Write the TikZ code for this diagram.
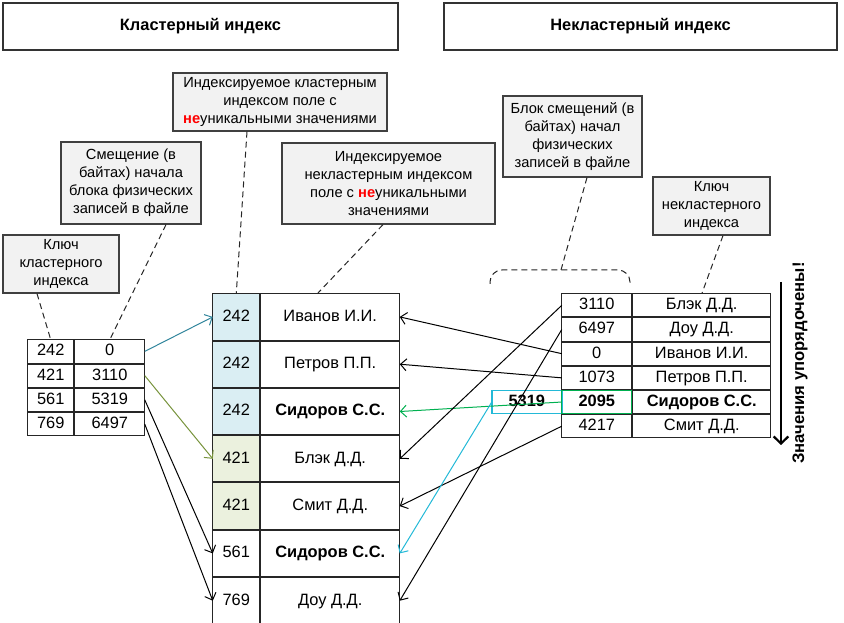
\documentclass[tikz,border=0pt]{standalone}
\usepackage{fontspec}
\setmainfont{Liberation Sans}
\usetikzlibrary{arrows.meta,positioning}
\newlength\px
\setlength\px{0.75pt}
\definecolor{keyblue}{RGB}{218,238,243}
\definecolor{keygreen}{RGB}{235,241,222}
\definecolor{notegray}{RGB}{242,242,242}
\definecolor{tealline}{RGB}{49,133,156}
\definecolor{oliveline}{RGB}{119,147,60}
\definecolor{greenline}{RGB}{0,176,80}
\definecolor{cyanline}{RGB}{35,185,215}
\definecolor{nered}{RGB}{255,0,0}
\newcommand\tablefont{\fontsize{12.3}{14}\selectfont}
\newcommand\notefont{\fontsize{11}{13.5}\selectfont}
\newcommand\redne{\textcolor{nered}{\textbf{не}}}
\tikzset{
  cell/.style={draw=black!85, line width=\px, inner sep=0pt, outer sep=0pt,
    text height=9pt, text depth=2.4pt, font=\tablefont},
  note/.style={draw=black!75, fill=notegray, line width=1.2\px, align=center,
    inner sep=0pt, font=\notefont},
  title/.style={draw=black!80, line width=1.2\px, minimum height=47\px,
    font=\fontsize{12.3}{14}\selectfont\bfseries},
  lead/.style={black!85, line width=\px, dash pattern=on 6\px off 4\px},
  ptr/.style={-{Straight Barb[length=4.5pt,width=9pt]}, line width=\px},
}
\begin{document}
\begin{tikzpicture}[x=\px, y=-\px]
\useasboundingbox (0,0) rectangle (844,623);

% titles
\node[title, minimum width=395\px] (hdClust) at (200.5,26.5) {Кластерный индекс};
\node[title, minimum width=393\px] (hdNonCl) at (640.5,26.5) {Некластерный индекс};

% notes
\node[note, minimum width=214\px, minimum height=58\px] (cbCluster) at (280,102)
  {Индексируемое кластерным\\индексом поле с\\\redne уникальными значениями};
\node[note, minimum width=140\px, minimum height=82\px] (cbOffset) at (131,183)
  {Смещение (в\\байтах) начала\\блока физических\\записей в файле};
\node[note, minimum width=116\px, minimum height=58\px] (cbKey) at (61,264)
  {Ключ\\кластерного\\индекса};
\node[note, minimum width=213\px, minimum height=81\px] (cbField) at (388.5,183.5)
  {Индексируемое\\некластерным индексом\\поле с \redne уникальными\\значениями};
\node[note, minimum width=139\px, minimum height=81\px] (cbBlock) at (572.5,136.5)
  {Блок смещений (в\\байтах) начал\\физических\\записей в файле};
\node[note, minimum width=117\px, minimum height=58\px] (cbNKey) at (711.5,206)
  {Ключ\\некластерного\\индекса};

% clustered index
\matrix (clix) at (27,339) [anchor=north west, inner sep=0pt, column sep=0pt, row sep=0pt,
  nodes={cell, minimum height=23.25\px},
  column 1/.style={nodes={minimum width=46\px}},
  column 2/.style={nodes={minimum width=70\px}}]{
  \node (ck1) {242}; & \node (co1) {0}; \\
  \node (ck2) {421}; & \node (co2) {3110}; \\
  \node (ck3) {561}; & \node (co3) {5319}; \\
  \node (ck4) {769}; & \node (co4) {6497}; \\
};

% records
\matrix (recs) at (212,293) [anchor=north west, inner sep=0pt, column sep=0pt, row sep=0pt,
  nodes={cell, minimum height=46.3\px},
  column 1/.style={nodes={minimum width=47\px}},
  column 2/.style={nodes={minimum width=139\px}}]{
  \node[fill=keyblue] (rk1) {242}; & \node (rn1) {Иванов И.И.}; \\
  \node[fill=keyblue] (rk2) {242}; & \node (rn2) {Петров П.П.}; \\
  \node[fill=keyblue] (rk3) {242}; & \node (rn3) {\textbf{Сидоров С.С.}}; \\
  \node[fill=keygreen] (rk4) {421}; & \node (rn4) {Блэк Д.Д.}; \\
  \node[fill=keygreen] (rk5) {421}; & \node (rn5) {Смит Д.Д.}; \\
  \node (rk6) {561}; & \node (rn6) {\textbf{Сидоров С.С.}}; \\
  \node (rk7) {769}; & \node (rn7) {Доу Д.Д.}; \\
};

% nonclustered index
\matrix (ncix) at (561,293) [anchor=north west, inner sep=0pt, column sep=0pt, row sep=0pt,
  nodes={cell, minimum height=23.17\px},
  column 1/.style={nodes={minimum width=70\px}},
  column 2/.style={nodes={minimum width=138\px}}]{
  \node (no1) {3110}; & \node (nn1) {Блэк Д.Д.}; \\
  \node (no2) {6497}; & \node (nn2) {Доу Д.Д.}; \\
  \node (no3) {0}; & \node (nn3) {Иванов И.И.}; \\
  \node (no4) {1073}; & \node (nn4) {Петров П.П.}; \\
  \node (no5) {\textbf{2095}}; & \node (nn5) {\textbf{Сидоров С.С.}}; \\
  \node (no6) {4217}; & \node (nn6) {Смит Д.Д.}; \\
};
\node[cell, draw=cyanline, line width=1.5\px, minimum width=70\px, minimum height=23.17\px,
  left=0pt of no5, font=\tablefont\bfseries] (off5319) {5319};
\draw[greenline, line width=1.2\px] (no5.north west) rectangle (no5.south east);

% leader lines
\draw[lead] ([xshift=-24\px]cbKey.south) -- (ck1.north);
\draw[lead] ([xshift=35\px]cbOffset.south) -- (co1.north);
\draw[lead] ([xshift=-33\px]cbCluster.south) -- (rk1.north);
\draw[lead] ([xshift=-5.5\px]cbField.south) -- ([xshift=-13\px]rn1.north);
\coordinate (blkTop) at (561,270);
\draw[lead] ([xshift=14.5\px]cbBlock.south) -- (blkTop);
\draw[lead, rounded corners=9pt] (490,284) |- (blkTop) -| (630,284);
\draw[lead] ([xshift=11.5\px]cbNKey.south) -- (nn1.north);

% clustered pointers
\draw[ptr, tealline] (co1.east) -- (rk1.west);
\draw[ptr, oliveline] (co2.east) -- (rk4.west);
\draw[ptr] (co3.east) -- (rk6.west);
\draw[ptr] (co4.east) -- (rk7.west);

% nonclustered pointers
\draw[ptr] (no3.west) -- (rn1.east);
\draw[ptr] (no4.west) -- (rn2.east);
\draw[ptr, greenline] (no5.west) -- (rn3.east);
\draw[ptr] (no1.west) -- (rn4.east);
\draw[ptr] (no6.west) -- (rn5.east);
\draw[ptr, cyanline] (off5319.west) -- (rn6.east);
\draw[ptr] (no2.west) -- (rn7.east);

% order
\coordinate (sortTop) at (781,282);
\coordinate (sortEnd) at (781,445);
\draw[-{Straight Barb[length=5.25pt,width=11pt]}, line width=2.2\px] (sortTop) -- (sortEnd);
\node[rotate=90, font=\fontsize{12.5}{14}\selectfont\bfseries] (sortLbl) at (800,363)
  {Значения упорядочены!};
\end{tikzpicture}
\end{document}
